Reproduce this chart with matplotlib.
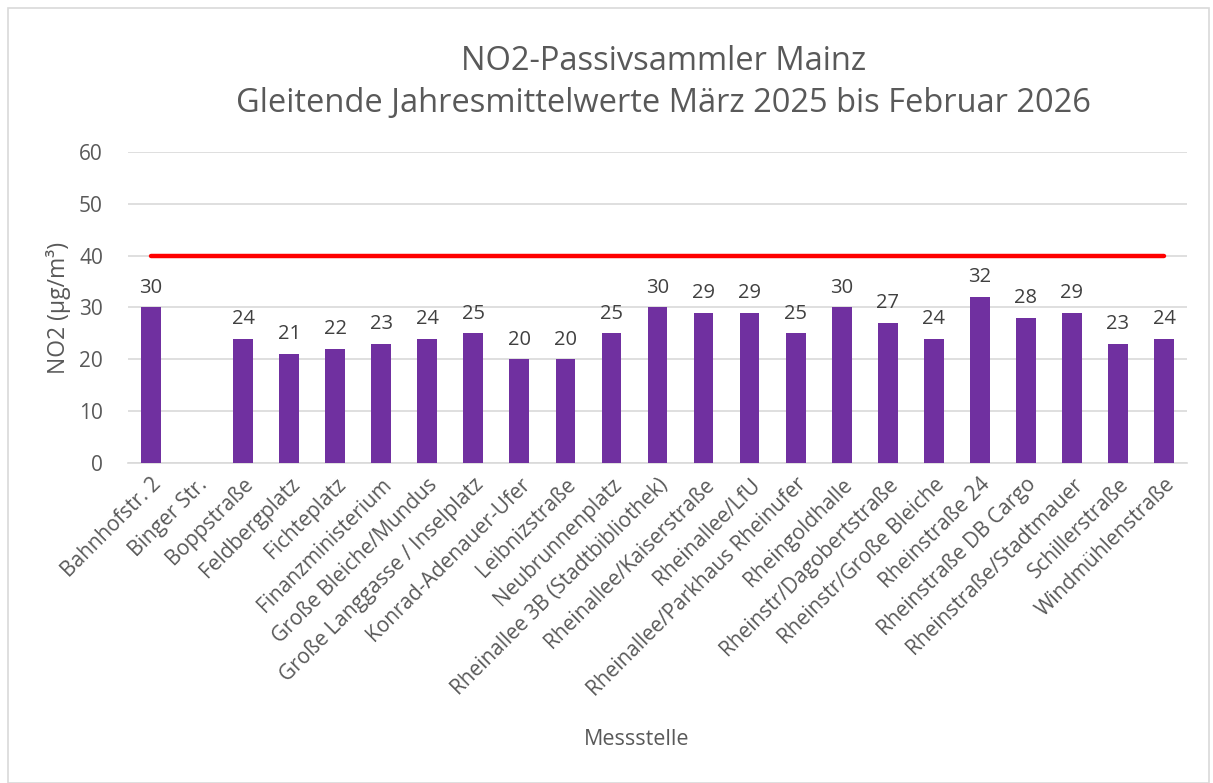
import numpy as np
import matplotlib.pyplot as plt
from matplotlib.patches import Rectangle

plt.rcParams['font.family'] = ['Open Sans', 'DejaVu Sans']

# Messstellen und gleitende Jahresmittelwerte (NaN = kein Wert)
stations = ["Bahnhofstr. 2", "Binger Str.", "Boppstraße", "Feldbergplatz", "Fichteplatz",
            "Finanzministerium", "Große Bleiche/Mundus", "Große Langgasse / Inselplatz",
            "Konrad-Adenauer-Ufer", "Leibnizstraße", "Neubrunnenplatz",
            "Rheinallee 3B (Stadtbibliothek)", "Rheinallee/Kaiserstraße", "Rheinallee/LfU",
            "Rheinallee/Parkhaus Rheinufer", "Rheingoldhalle", "Rheinstr/Dagobertstraße",
            "Rheinstr/Große Bleiche", "Rheinstraße 24", "Rheinstraße DB Cargo",
            "Rheinstraße/Stadtmauer", "Schillerstraße", "Windmühlenstraße"]
no2 = [30, np.nan, 24, 21, 22, 23, 24, 25, 20, 20, 25, 30, 29, 29, 25, 30, 27, 24, 32, 28, 29, 23, 24]
limit = 40

grey = "#595959"
fig = plt.figure(figsize=(12.13, 7.83), dpi=100)
ax = fig.add_axes([0.1055, 0.4087, 0.8731, 0.3972])

x = np.arange(len(stations))
ax.bar(x, no2, width=0.43, color="#7030A0", zorder=3)
for xi, v in zip(x, no2):
    if not np.isnan(v):
        ax.annotate(f"{v:.0f}", (xi, v), xytext=(0, 7), textcoords="offset points",
                    ha="center", va="bottom", fontsize=14.5, color="#404040")

ax.plot([x[0], x[-1]], [limit, limit], color="#FF0000", lw=3.2, solid_capstyle="round", zorder=4)

ax.set_xlim(-0.5, len(stations) - 0.5)
ax.set_ylim(0, 60)
ax.set_yticks(range(0, 61, 10))
ax.yaxis.grid(True, color="#D9D9D9", lw=1.2, zorder=0)
for s in ["top", "right", "left"]:
    ax.spines[s].set_visible(False)
ax.spines["bottom"].set_color("#D9D9D9")
ax.spines["bottom"].set_linewidth(1.2)
ax.tick_params(axis="both", length=0, labelsize=15, labelcolor=grey)
ax.tick_params(axis="y", pad=18)
ax.set_xticks(x)
ax.set_xticklabels(stations, rotation=45, ha="right", rotation_mode="anchor")
ax.tick_params(axis="x", pad=8)

ax.set_ylabel("NO2 (µg/m³)", fontsize=16.5, color=grey, labelpad=6)
fig.text(0.525, 0.055, "Messstelle", ha="center", va="center", fontsize=15.5, color=grey)
fig.text(0.547, 0.8946, "NO2-Passivsammler Mainz\nGleitende Jahresmittelwerte März 2025 bis Februar 2026",
         ha="center", va="center", fontsize=23.5, color=grey, linespacing=1.39)

fig.patches.append(Rectangle((0.007, 0.0), 0.99, 0.99, transform=fig.transFigure,
                             fill=False, edgecolor="#D9D9D9", lw=1.2))

fig.savefig("out.png", dpi=100)
